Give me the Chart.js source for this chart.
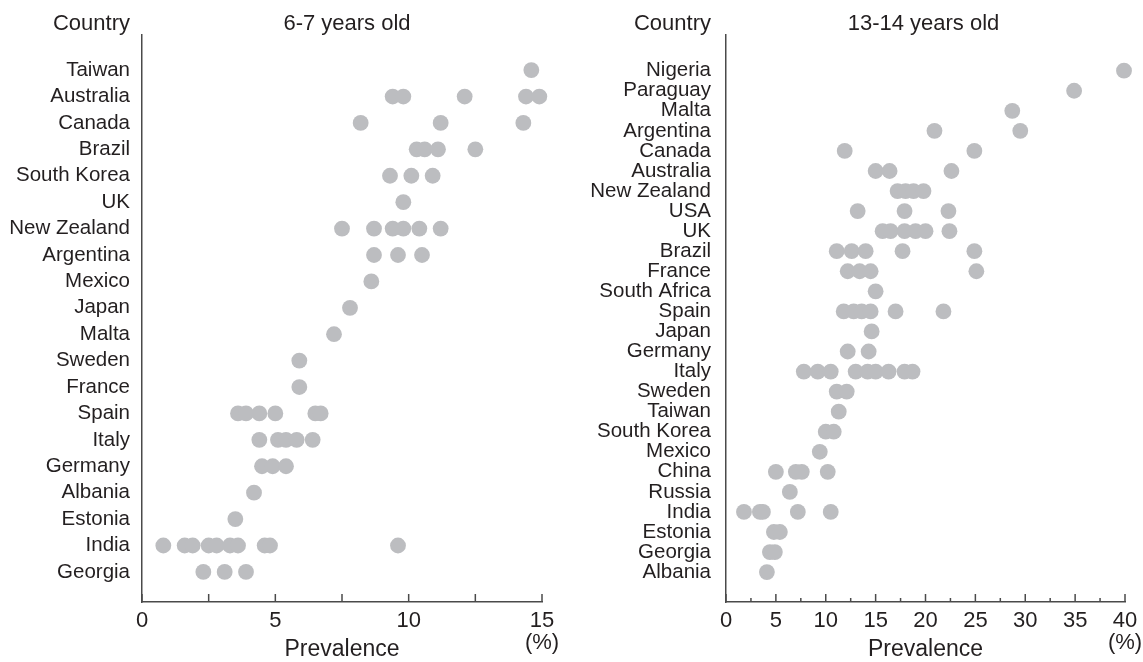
<!DOCTYPE html>
<html>
<head>
<meta charset="utf-8">
<script src="https://cdn.jsdelivr.net/npm/chart.js@4.4.1/dist/chart.umd.min.js"></script>
<style>
  html, body { margin: 0; padding: 0; background: #fff; }
  .panel { position: absolute; top: 0; height: 662px; }
</style>
</head>
<body>
<div class="panel" style="left:0;width:570px"><canvas id="chartYoung" width="570" height="662"></canvas></div>
<div class="panel" style="left:570px;width:573px"><canvas id="chartTeen" width="573" height="662"></canvas></div>
<script>
// 6-7 years old, one list of survey centres per country (prevalence %)
const countriesYoung = ['Taiwan', 'Australia', 'Canada', 'Brazil', 'South Korea', 'UK', 'New Zealand',
  'Argentina', 'Mexico', 'Japan', 'Malta', 'Sweden', 'France', 'Spain', 'Italy', 'Germany',
  'Albania', 'Estonia', 'India', 'Georgia'];
const valuesYoung = [
  [14.6],
  [9.4, 9.8, 12.1, 14.4, 14.9],
  [8.2, 11.2, 14.3],
  [10.3, 10.6, 11.1, 12.5],
  [9.3, 10.1, 10.9],
  [9.8],
  [7.5, 8.7, 9.4, 9.8, 10.4, 11.2],
  [8.7, 9.6, 10.5],
  [8.6],
  [7.8],
  [7.2],
  [5.9],
  [5.9],
  [3.6, 3.9, 4.4, 5.0, 6.5, 6.7],
  [4.4, 5.1, 5.4, 5.8, 6.4],
  [4.5, 4.9, 5.4],
  [4.2],
  [3.5],
  [0.8, 1.6, 1.9, 2.5, 2.8, 3.3, 3.6, 4.6, 4.8, 9.6],
  [2.3, 3.1, 3.9]
];
const ticksYoung = [0, 5, 10, 15];

// 13-14 years old
const countriesTeen = ['Nigeria', 'Paraguay', 'Malta', 'Argentina', 'Canada', 'Australia', 'New Zealand',
  'USA', 'UK', 'Brazil', 'France', 'South Africa', 'Spain', 'Japan', 'Germany', 'Italy', 'Sweden',
  'Taiwan', 'South Korea', 'Mexico', 'China', 'Russia', 'India', 'Estonia', 'Georgia', 'Albania'];
const valuesTeen = [
  [39.9],
  [34.9],
  [28.7],
  [20.9, 29.5],
  [11.9, 24.9],
  [15.0, 16.4, 22.6],
  [17.2, 18.0, 18.8, 19.8],
  [13.2, 17.9, 22.3],
  [15.7, 16.5, 17.9, 19.0, 20.0, 22.4],
  [11.1, 12.6, 14.0, 17.7, 24.9],
  [12.2, 13.4, 14.5, 25.1],
  [15.0],
  [11.8, 12.8, 13.6, 14.5, 17.0, 21.8],
  [14.6],
  [12.2, 14.3],
  [7.8, 9.2, 10.5, 13.0, 14.2, 15.0, 16.3, 17.9, 18.7],
  [11.1, 12.1],
  [11.3],
  [10.0, 10.8],
  [9.4],
  [5.0, 7.0, 7.6, 10.2],
  [6.4],
  [1.8, 3.4, 3.7, 7.2, 10.5],
  [4.8, 5.4],
  [4.4, 4.9],
  [4.1]
];
const ticksTeen = [0, 5, 10, 15, 20, 25, 30, 35, 40];

const textColor = '#231f20';
const axisColor = '#4a4a4a';
const dotColor = '#bcbdc0';
const fontFamily = '"Liberation Sans", Arial, Helvetica, sans-serif';

// inward tick marks on the x axis plus the "Country" header and panel title
const decorations = {
  id: 'decorations',
  afterDraw(chart, args, opts) {
    const ctx = chart.ctx;
    const xs = chart.scales.x;
    const ys = chart.scales.y;
    const base = chart.chartArea.bottom;
    ctx.save();
    ctx.strokeStyle = axisColor;
    ctx.lineWidth = 1.5;
    for (let v = xs.min; v <= xs.max + 1e-9; v += 2.5) {
      const px = xs.getPixelForValue(v);
      const len = (Math.abs(v % 5) < 1e-9) ? opts.major : opts.minor;
      ctx.beginPath();
      ctx.moveTo(px, base);
      ctx.lineTo(px, base - len);
      ctx.stroke();
    }
    ctx.fillStyle = textColor;
    ctx.font = '22px ' + fontFamily;
    ctx.textBaseline = 'middle';
    ctx.textAlign = 'right';
    ctx.fillText('Country', ys.right - opts.headerGap, 24);
    ctx.textAlign = 'center';
    ctx.fillText(opts.title, (chart.chartArea.left + chart.chartArea.right) / 2 + opts.titleShift, 24);
    ctx.restore();
  }
};

function makeChart(canvasId, countries, values, tickValues, cfg) {
  const points = [];
  values.forEach((list, i) => list.forEach(v => points.push({ x: v, y: i })));
  const xMax = tickValues[tickValues.length - 1];

  return new Chart(document.getElementById(canvasId), {
    type: 'scatter',
    data: {
      datasets: [{
        data: points,
        backgroundColor: dotColor,
        borderWidth: 0,
        pointRadius: 7.9,
        pointHoverRadius: 7.9,
        clip: false
      }]
    },
    plugins: [decorations],
    options: {
      responsive: false,
      animation: false,
      layout: { padding: { top: 35, right: cfg.rightPad, left: 0, bottom: 0 } },
      plugins: {
        legend: { display: false },
        tooltip: { enabled: false },
        decorations: { title: cfg.title, major: 8, minor: cfg.minorTick, headerGap: cfg.headerGap, titleShift: cfg.titleShift }
      },
      scales: {
        x: {
          type: 'linear',
          min: 0,
          max: xMax,
          grid: { display: false, drawTicks: false },
          border: { display: true, color: axisColor, width: 1.5 },
          afterBuildTicks: scale => { scale.ticks = tickValues.map(v => ({ value: v })); },
          afterFit: scale => {
            scale.height = 60;
            scale.paddingLeft = 0;
            scale.paddingRight = 0;
          },
          ticks: {
            color: textColor,
            padding: 8,
            maxRotation: 0,
            autoSkip: false,
            font: { family: fontFamily, size: 22, lineHeight: 1.0 },
            callback: v => v === xMax ? [String(v), '(%)'] : String(v)
          },
          title: {
            display: true,
            text: 'Prevalence',
            color: textColor,
            padding: 0,
            font: { family: fontFamily, size: 23, lineHeight: 1.1 }
          }
        },
        y: {
          type: 'linear',
          reverse: true,
          min: cfg.yMin,
          max: cfg.yMax,
          grid: { display: false, drawTicks: false },
          border: { display: true, color: axisColor, width: 1.5 },
          afterBuildTicks: scale => { scale.ticks = countries.map((c, i) => ({ value: i })); },
          afterFit: scale => { scale.width = cfg.yWidth; },
          ticks: {
            color: textColor,
            padding: cfg.headerGap,
            autoSkip: false,
            font: { family: fontFamily, size: 20.5 },
            callback: v => countries[v]
          }
        }
      }
    }
  });
}

makeChart('chartYoung', countriesYoung, valuesYoung, ticksYoung, {
  title: '6-7 years old', yMin: -1.33, yMax: 20.14, yWidth: 142, rightPad: 28, headerGap: 12, minorTick: 8, titleShift: 5
});
makeChart('chartTeen', countriesTeen, valuesTeen, ticksTeen, {
  title: '13-14 years old', yMin: -1.78, yMax: 26.49, yWidth: 156, rightPad: 18, headerGap: 15, minorTick: 4, titleShift: -2
});
</script>
</body>
</html>
